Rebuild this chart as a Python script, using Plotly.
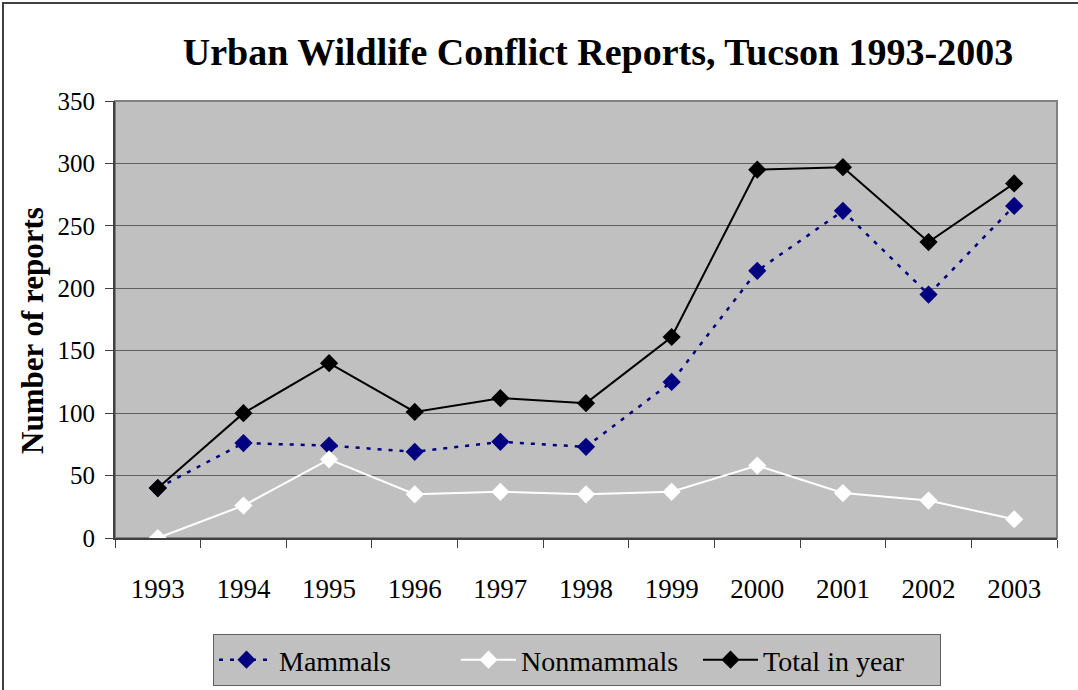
import plotly.graph_objects as go

# Annual wildlife conflict report counts, Tucson
years = ["1993", "1994", "1995", "1996", "1997", "1998",
         "1999", "2000", "2001", "2002", "2003"]
mammals = [40, 76, 74, 69, 77, 73, 125, 214, 262, 195, 266]
nonmammals = [0, 26, 63, 35, 37, 35, 37, 58, 36, 30, 15]
total = [40, 100, 140, 101, 112, 108, 161, 295, 297, 237, 284]

y_ticks = [0, 50, 100, 150, 200, 250, 300, 350]

W, H = 1078, 690
L, R, T, B = 115, 21, 101, 152
plot_w, plot_h = W - L - R, H - T - B

def px_x(px):
    return (px - L) / plot_w

def px_y(py):
    return (H - B - py) / plot_h

serif = "Liberation Serif, Times New Roman, serif"

fig = go.Figure()

fig.add_trace(go.Scatter(
    x=years, y=mammals, name="Mammals", mode="lines+markers",
    line=dict(color="#000080", width=2.5, dash="4px,7px"),
    marker=dict(symbol="diamond", size=14, color="#000080"),
))
fig.add_trace(go.Scatter(
    x=years, y=nonmammals, name="Nonmammals", mode="lines+markers",
    line=dict(color="#FFFFFF", width=2),
    marker=dict(symbol="diamond", size=14, color="#FFFFFF"),
))
fig.add_trace(go.Scatter(
    x=years, y=total, name="Total in year", mode="lines+markers",
    line=dict(color="#000000", width=2),
    marker=dict(symbol="diamond", size=14, color="#000000"),
))

# plot area border and outer chart frame
fig.add_shape(type="rect", xref="paper", yref="paper", x0=0, x1=1, y0=0, y1=1,
              line=dict(color="#808080", width=2), layer="below")
fig.add_shape(type="rect", xref="paper", yref="paper",
              x0=px_x(3), x1=px_x(W + 30), y0=px_y(H + 30), y1=px_y(3),
              line=dict(color="#404040", width=2))

fig.add_annotation(
    text="<b>Number of reports</b>", textangle=-90,
    xref="paper", yref="paper", x=px_x(32), y=px_y(331),
    xanchor="center", yanchor="middle", showarrow=False,
    font=dict(family=serif, size=31, color="#000000"),
)

fig.update_layout(
    width=W, height=H,
    margin=dict(l=L, r=R, t=T, b=B, autoexpand=False),
    paper_bgcolor="#FFFFFF",
    plot_bgcolor="#C0C0C0",
    font=dict(family=serif, color="#000000"),
    title=dict(
        text="<b>Urban Wildlife Conflict Reports, Tucson 1993-2003</b>",
        x=598 / W, xref="container", xanchor="center",
        y=1 - 52 / H, yref="container", yanchor="middle",
        font=dict(family=serif, size=38, color="#000000"),
    ),
    showlegend=True,
    legend=dict(
        orientation="h",
        x=px_x(577), xanchor="center",
        y=px_y(634), yanchor="top",
        bgcolor="#C0C0C0", bordercolor="#606060", borderwidth=1,
        font=dict(family=serif, size=28, color="#000000"),
        itemwidth=55,
        entrywidth=172,
    ),
    xaxis=dict(
        type="category", range=[-0.5, 10.5],
        tickson="boundaries", ticks="outside", ticklen=8, tickwidth=1,
        tickcolor="#404040",
        showline=True, linecolor="#404040", linewidth=2,
        showgrid=False, zeroline=False,
        ticklabelstandoff=26,
        tickfont=dict(family=serif, size=27, color="#000000"),
    ),
    yaxis=dict(
        range=[0, 350], tickvals=y_ticks,
        ticks="outside", ticklen=8, tickwidth=1, tickcolor="#404040",
        showline=True, linecolor="#404040", linewidth=2,
        showgrid=True, gridcolor="#606060", gridwidth=1,
        zeroline=False,
        ticklabelstandoff=5,
        tickfont=dict(family=serif, size=25, color="#000000"),
    ),
)

fig.write_html("out.html")
